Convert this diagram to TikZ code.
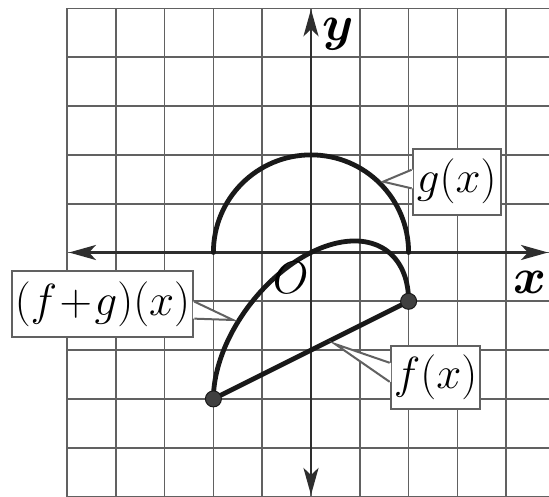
\RequirePackage{fix-cm}
\documentclass[tikz,border=0pt]{standalone}
\usetikzlibrary{arrows.meta,calc}
\tikzset{axtip/.tip={Stealth[length=27pt,width=15pt,inset=7pt]}}
\begin{document}
\begin{tikzpicture}[x=48.8pt,y=48.8pt,
  gridline/.style={draw=black!62, line width=1.7pt},
  axis/.style={draw=black!82, line width=2.8pt},
  curve/.style={draw=black!90, line width=4.8pt, line cap=round},
  dotmark/.style={circle, fill=black!75, draw=black!90, line width=1pt, inner sep=0pt, minimum size=16pt},
  labelbox/.style={draw=black!62, line width=2pt, fill=white, inner sep=0pt, minimum height=66pt, font=\fontsize{45}{50}\selectfont},
  pointer/.style={draw=black!62, line width=2pt, line join=miter},
  axlabel/.style={font=\fontsize{50}{56}\selectfont\boldmath, inner sep=0pt},
  originlabel/.style={font=\fontsize{46}{52}\selectfont, inner sep=0pt},
]
\useasboundingbox (-6.373,-4.990) rectangle (4.877,5.174);
\begin{scope}
\clip (-6.373,-4.990) rectangle (4.877,5.174);
\fill[white] (-6.373,-4.990) rectangle (4.877,5.174);
% grid
\draw[gridline, step=48.8pt] (-5,-5.5) grid (5.5,5);
% axes
\coordinate (xl) at (-4.96,0);
\coordinate (xr) at (4.857,0);
\coordinate (yt) at (0,4.984);
\coordinate (yb) at (0,-4.969);
\draw[axis,axtip-axtip] (xl) -- (xr);
\draw[axis,axtip-axtip] (yb) -- (yt);
% curves
\coordinate (pL) at (-2,-3);
\coordinate (pR) at (2,-1);
\draw[curve] (-2,0) arc[start angle=180, end angle=0, radius=2];
\draw[curve] (pL) -- (pR);
\draw[curve] plot[domain=180:0, samples=150, smooth] ({2*cos(\x)}, {2*sin(\x)+cos(\x)-2});
\node[dotmark] (dl) at (pL) {};
\node[dotmark] (dr) at (pR) {};
% labels on axes
\node[axlabel] (ylab) at (0.559,4.477) {$y$};
\node[axlabel, anchor=east] (xlab) at (4.83,-0.605) {$x$};
\node[originlabel] (olab) at (-0.414,-0.512) {$O$};
% boxes
\node[labelbox, minimum width=88pt] (gbox) at (2.985,1.452) {$g(x)$};
\node[labelbox, minimum width=181.6pt, minimum height=66.6pt] (fgbox) at (-4.273,-1.055) {$(f\mkern1mu{+}\mkern1mu g)(x)$};
\node[labelbox, minimum width=89.8pt, minimum height=63.5pt] (fbox) at (2.553,-2.566) {$f(x)$};
% pointers
\coordinate (gtip) at (1.478,1.451);
\coordinate (gb1) at ($(gbox.north west)!0.325!(gbox.south west)$);
\coordinate (gb2) at ($(gbox.north west)!0.599!(gbox.south west)$);
\fill[white] ([xshift=1.4pt]gb1) -- (gb1) -- (gtip) -- (gb2) -- ([xshift=1.4pt]gb2) -- cycle;
\draw[pointer] (gb1) -- (gtip) -- (gb2);
\coordinate (fgtip) at (-1.598,-1.383);
\coordinate (fgb1) at ($(fgbox.north east)!0.465!(fgbox.south east)$);
\coordinate (fgb2) at ($(fgbox.north east)!0.714!(fgbox.south east)$);
\fill[white] ([xshift=-1.4pt]fgb1) -- (fgb1) -- (fgtip) -- (fgb2) -- ([xshift=-1.4pt]fgb2) -- cycle;
\draw[pointer] (fgb1) -- (fgtip) -- (fgb2);
\coordinate (ftip) at (0.492,-1.875);
\coordinate (fb1) at ($(fbox.north west)!0.272!(fbox.south west)$);
\coordinate (fb2) at ($(fbox.north west)!0.563!(fbox.south west)$);
\fill[white] ([xshift=1.4pt]fb1) -- (fb1) -- (ftip) -- (fb2) -- ([xshift=1.4pt]fb2) -- cycle;
\draw[pointer] (fb1) -- (ftip) -- (fb2);
\end{scope}
\end{tikzpicture}
\end{document}
